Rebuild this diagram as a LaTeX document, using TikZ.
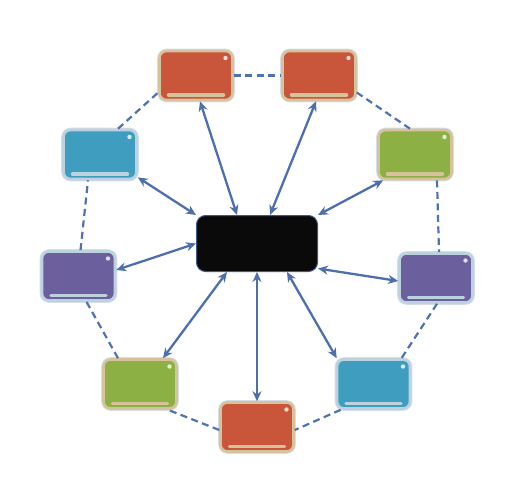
\documentclass[tikz,border=0pt]{standalone}
\usetikzlibrary{arrows.meta,calc}
\definecolor{cred}{HTML}{C9553A}
\definecolor{cblue}{HTML}{3F9DBF}
\definecolor{cgreen}{HTML}{8DB045}
\definecolor{cpurple}{HTML}{6B5F9E}
\definecolor{tanb}{HTML}{D7C39B}
\definecolor{lblue}{HTML}{BCD2DE}
\definecolor{halo}{HTML}{D3DEE8}
\definecolor{arrc}{HTML}{4E6FAE}
\definecolor{dashc}{HTML}{4F72B2}
\tikzset{
  obox/.style 2 args={rectangle, rounded corners=7pt, minimum width=73pt, minimum height=49pt,
    fill=#1, draw=#2, line width=2.6pt, inner sep=0pt,
    preaction={draw=halo, line width=4.6pt},
    path picture={
      \draw[#2, line width=3.5pt, line cap=round]
        ([xshift=9pt,yshift=5pt]path picture bounding box.south west) --
        ([xshift=-9pt,yshift=5pt]path picture bounding box.south east);
      \fill[white, opacity=0.8] ([xshift=-7pt,yshift=-7pt]path picture bounding box.north east) circle (2.2pt);
    }},
  cbox/.style={rectangle, rounded corners=9pt, minimum width=121pt, minimum height=56pt,
    fill=black!96, draw=arrc!80!black, line width=1pt},
  link/.style={draw=arrc, line width=2.3pt, {Stealth[length=10pt,width=9pt]}-{Stealth[length=10pt,width=9pt]}},
  ring/.style={draw=dashc, line width=2.2pt, dash pattern=on 7pt off 4.5pt}
}
\begin{document}
\begin{tikzpicture}[x=1pt,y=-1pt]
\useasboundingbox (0,0) rectangle (509,491);
\node[cbox] (c) at (257,243.5) {};
\node[obox={cred}{tanb}] (r1) at (196,75.5) {};
\node[obox={cred}{tanb}] (r2) at (319,75.5) {};
\node[obox={cblue}{lblue}] (b1) at (100,154.5) {};
\node[obox={cgreen}{tanb}] (g1) at (415,154.5) {};
\node[obox={cpurple}{lblue}] (p1) at (78.5,276) {};
\node[obox={cpurple}{lblue}] (p2) at (436,278) {};
\node[obox={cgreen}{tanb}] (g2) at (140,384) {};
\node[obox={cblue}{lblue}] (b2) at (373.5,384) {};
\node[obox={cred}{tanb}] (r3) at (257,427) {};
% dashed ring
\draw[ring] (r1.east) -- (r2.west);
\draw[ring] ($(r2.east)+(0,17)$) -- ($(g1.north)+(-5,0)$);
\draw[ring] ($(g1.south)+(22,0)$) -- ($(p2.north)+(3,0)$);
\draw[ring] ($(p2.south)+(1,0)$) -- ($(b2.north)+(28,0)$);
\draw[ring] ($(b2.south west)+(5,0)$) -- ($(r3.east)+(0,3)$);
\draw[ring] ($(r3.west)+(0,3)$) -- ($(g2.south)+(28,0)$);
\draw[ring] ($(g2.north)+(-22,0)$) -- ($(p1.south)+(8,0)$);
\draw[ring] ($(p1.north)+(2,0)$) -- ($(b1.south)+(-12,0)$);
\draw[ring] ($(b1.north)+(18,0)$) -- ($(r1.west)+(0,17)$);
% arrows
\draw[link] ($(c.north)+(-20,0)$) -- ($(r1.south)+(4,0)$);
\draw[link] ($(c.north)+(13,0)$) -- ($(r2.south)+(-3,0)$);
\draw[link] (c.north west) -- ($(b1.south east)+(0,-3)$);
\draw[link] (c.north east) -- ($(g1.south west)+(6,0)$);
\draw[link] (c.west) -- ($(p1.east)+(0,-6)$);
\draw[link] ($(c.east)+(0,25)$) -- ($(p2.west)+(0,3)$);
\draw[link] ($(c.south)+(-30,0)$) -- ($(g2.north)+(23,0)$);
\draw[link] ($(c.south)+(30,0)$) -- ($(b2.north west)+(1,0)$);
\draw[link] (c.south) -- (r3.north);
\end{tikzpicture}
\end{document}
